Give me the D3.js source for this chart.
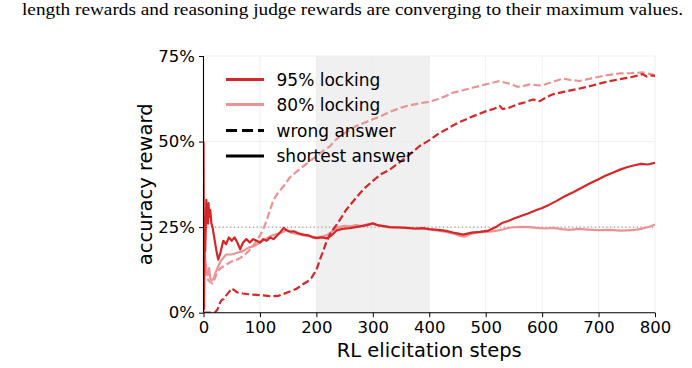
<!DOCTYPE html>
<html>
<head>
<meta charset="utf-8">
<script src="https://cdn.jsdelivr.net/npm/d3@7"></script>
<style>
  body { margin: 0; background: #fff; }
  svg { display: block; }
  text { font-family: "DejaVu Sans", sans-serif; fill: #000; }
</style>
</head>
<body>
<svg id="chart" width="692" height="368"></svg>
<script>
var svg = d3.select("#chart");

// tick values
var xTicks = [0, 100, 200, 300, 400, 500, 600, 700, 800];
var yTicks = [0, 25, 50, 75];
var shadeRange = [200, 400];
var chanceLevel = 25;

// 95% locking, shortest answer (solid, dark)
var steps95Short = [0,1,2,3,4,5,6,7,8,9,10,12,14,16,18,20,23,26,30,35,40,45,50,55,60,65,70,76,82,88,94,100,106,112,118,124,130,136,142,148,153,160,168,177,186,194,200,210,218,226,236,246,259,270,280,290,300,310,320,330,345,360,375,389,400,416,430,445,460,475,490,505,520,530,540,550,560,575,590,600,612,625,640,655,670,685,700,712,725,738,750,762,775,787,800];
var vals95Short = [50,1,28,18,25,33,27,31,26,32,28,30,26,25,23,21,18,15.5,17.5,21,20,22,21,22,20.5,18.5,20.5,21.5,20.5,21.5,21,20.5,21.5,21,22,21.5,22.5,23.5,24.8,24,23.7,23.8,23.2,22.8,22.6,22,21.8,22,21.7,22.5,24,24.5,24.7,25,25.3,25.6,26.1,25.5,25.3,25,24.9,24.8,24.6,24.7,24.4,24.2,23.9,23.3,22.8,23.4,23.6,24,25.2,26.3,26.8,27.5,28.1,29,30,30.6,31.5,32.6,34,35.2,36.5,37.8,39,40,40.9,41.8,42.5,43,43.5,43.3,43.8];

// 95% locking, wrong answer (dashed, dark)
var steps95Wrong = [0,10,20,25,28,32,36,40,45,50,55,60,70,80,94,110,122,132,142,153,165,175,185,191,200,206,212,218,226,236,245,253,265,283,300,315,330,348,365,383,401,419,430,442,455,472,487,501,515,525,530,540,555,570,584,596,608,619,640,661,680,696,715,737,757,770,778,785,792,800];
var vals95Wrong = [0,0,0,1,2.5,3.7,4,5,6,7.1,6.5,5.9,5.6,5.4,5.2,5,4.8,4.9,5.5,6.2,7,8.2,9.2,10.1,12.5,15.4,18,20.8,23.5,25.7,28,30.1,32.5,36,38.5,40.5,41.8,44,46.2,48.7,50.5,52.6,53.5,54.7,55.8,57,58,58.9,59.6,60.4,59.5,59.8,60.8,61.5,62.3,61.8,63,63.8,64.6,65.3,66,66.7,67.5,68.2,68.8,69.3,69.7,69,69.3,69.2];

// 80% locking, shortest answer (solid, light)
var steps80Short = [0,2,4,6,8,10,12,15,18,22,26,30,35,40,50,60,70,80,90,100,110,120,130,140,148,155,165,177,190,200,210,220,230,240,250,260,270,280,290,300,310,320,330,345,360,375,389,400,416,430,445,455,462,470,480,495,508,520,530,545,560,578,590,605,620,635,649,665,680,700,720,740,760,775,790,800];
var vals80Short = [22,18,14,12,11,13,10,9.5,10,12,13.5,15,16,17,17,17.5,18,19,19.5,20.5,21.5,22.5,23,23.5,24.2,23.4,23,22.6,22.3,22,22.2,22.8,24,25,25.4,25.2,25.6,25.3,25.8,26,25.5,25.2,24.9,25,24.8,24.5,24.6,24.3,24,23.6,23,22.4,22.2,22.8,23.3,23.6,23.7,24,24.3,24.9,25.1,25,24.8,24.6,24.8,24.4,24.2,24.5,24.3,24.1,24.2,24,24.1,24.5,25.1,25.8];

// 80% locking, wrong answer (dashed, light)
var steps80Wrong = [0,2,5,8,12,16,20,25,30,35,40,50,60,70,80,90,100,106,112,118,124,132,142,153,165,177,190,200,212,224,233,242,255,270,285,300,315,330,345,360,383,400,413,428,442,460,478,500,525,535,545,556,566,578,590,599,618,637,650,666,685,708,720,737,758,778,790,800];
var vals80Wrong = [16,14,11,9.5,9,8.5,10,12,13,13.5,14,15,15.5,16.5,18,20,22.5,24.5,27,30,33,35,37,39.5,41.2,42.8,44.5,45.7,47.3,48.6,50.3,51.6,53,54.5,55.5,56.5,57.5,58.7,59.6,60.4,61.2,61.6,62.3,63.2,64.3,65,65.8,66.7,67.7,67.2,66.8,66,66.2,66.7,66.5,66.4,67.4,68.4,68,67.7,68.4,69.2,69.5,69.9,70,70.2,69.8,69.4];

var legendLabels = ["95% locking", "80% locking", "wrong answer", "shortest answer"];

var darkRed = "#d62728";
var lightRed = "#eb9393";

// plot box, matched to the reference by eye
var plotLeft = 203.5, plotRight = 655, plotTop = 56, plotBottom = 312.7;

var x = d3.scaleLinear().domain([0, 800]).range([plotLeft, plotRight]);
var y = d3.scaleLinear().domain([0, 75]).range([plotBottom, plotTop]);

// caption line above the figure (part of the page text)
svg.append("text")
  .attr("x", 22)
  .attr("y", 15)
  .attr("textLength", 661)
  .attr("lengthAdjust", "spacingAndGlyphs")
  .style("font-family", "'Liberation Serif', 'Times New Roman', serif")
  .style("font-size", "17px")
  .text("length rewards and reasoning judge rewards are converging to their maximum values.");

svg.append("defs").append("clipPath").attr("id", "clip")
  .append("rect")
  .attr("x", plotLeft).attr("y", plotTop - 2)
  .attr("width", plotRight - plotLeft).attr("height", plotBottom - plotTop + 2);

// shaded span
svg.append("rect")
  .attr("x", x(shadeRange[0]))
  .attr("y", plotTop)
  .attr("width", x(shadeRange[1]) - x(shadeRange[0]))
  .attr("height", plotBottom - plotTop)
  .style("fill", "#f0f0f0");

// faint grid
svg.append("g").selectAll("line").data(xTicks).enter().append("line")
  .attr("x1", d => x(d)).attr("x2", d => x(d))
  .attr("y1", plotTop).attr("y2", plotBottom)
  .style("stroke", "#ebebeb").style("stroke-width", 0.8);
svg.append("g").selectAll("line").data(yTicks).enter().append("line")
  .attr("x1", plotLeft).attr("x2", plotRight)
  .attr("y1", d => y(d)).attr("y2", d => y(d))
  .style("stroke", "#ebebeb").style("stroke-width", 0.8);

// chance line
svg.append("line")
  .attr("x1", plotLeft).attr("x2", plotRight)
  .attr("y1", y(chanceLevel)).attr("y2", y(chanceLevel))
  .style("stroke", "#9a9a9a")
  .style("stroke-width", 1.2)
  .style("stroke-dasharray", "1.2,2.6");

var line = d3.line()
  .x(d => x(d[0]))
  .y(d => y(d[1]));

function zip(a, b) { return a.map((s, i) => [s, b[i]]); }

var series = [
  { data: zip(steps80Short, vals80Short), color: lightRed, dash: null },
  { data: zip(steps80Wrong, vals80Wrong), color: lightRed, dash: "7.4,3.2" },
  { data: zip(steps95Short, vals95Short), color: darkRed, dash: null },
  { data: zip(steps95Wrong, vals95Wrong), color: darkRed, dash: "7.4,3.2" }
];

var plot = svg.append("g").attr("clip-path", "url(#clip)");
series.forEach(function (s) {
  plot.append("path")
    .datum(s.data)
    .attr("d", line)
    .style("fill", "none")
    .style("stroke", s.color)
    .style("stroke-width", 2.2)
    .style("stroke-linejoin", "round")
    .style("stroke-dasharray", s.dash);
});

// axes
var xAxis = svg.append("g")
  .attr("transform", "translate(0," + plotBottom + ")")
  .call(d3.axisBottom(x).tickValues(xTicks).tickSize(4.5).tickPadding(4));
var yAxis = svg.append("g")
  .attr("transform", "translate(" + plotLeft + ",0)")
  .call(d3.axisLeft(y).tickValues(yTicks).tickSize(4.5).tickPadding(4).tickFormat(d => d + "%"));

[xAxis, yAxis].forEach(function (g) {
  g.selectAll("text").style("font-size", "16.5px").style("font-family", "'DejaVu Sans', sans-serif");
  g.selectAll("line").style("stroke", "#000").style("stroke-width", 1);
  g.select(".domain").style("stroke", "#000").style("stroke-width", 1.1);
});
yAxis.select(".domain").attr("d", "M0," + plotBottom + "V" + plotTop);
xAxis.select(".domain").attr("d", "M" + plotLeft + ",0H" + plotRight);

// axis labels
svg.append("text")
  .attr("x", (plotLeft + plotRight) / 2)
  .attr("y", 357)
  .attr("text-anchor", "middle")
  .style("font-size", "19.5px")
  .text("RL elicitation steps");

svg.append("text")
  .attr("transform", "translate(152," + ((plotTop + plotBottom) / 2) + ")rotate(-90)")
  .attr("text-anchor", "middle")
  .style("font-size", "19.5px")
  .text("accuracy reward");

// legend
var legendRows = [
  { color: darkRed, dash: null },
  { color: lightRed, dash: null },
  { color: "#000", dash: "7.4,3.2" },
  { color: "#000", dash: null }
];
var legendY = [79.5, 104.5, 130.5, 156];
var legend = svg.append("g");
legendRows.forEach(function (r, i) {
  legend.append("line")
    .attr("x1", 226).attr("x2", 264)
    .attr("y1", legendY[i]).attr("y2", legendY[i])
    .style("stroke", r.color)
    .style("stroke-width", 3)
    .style("stroke-dasharray", r.dash ? "11,5" : null);
  legend.append("text")
    .attr("x", 276.5)
    .attr("y", legendY[i] + 6)
    .style("font-size", "17px")
    .text(legendLabels[i]);
});
</script>
</body>
</html>
